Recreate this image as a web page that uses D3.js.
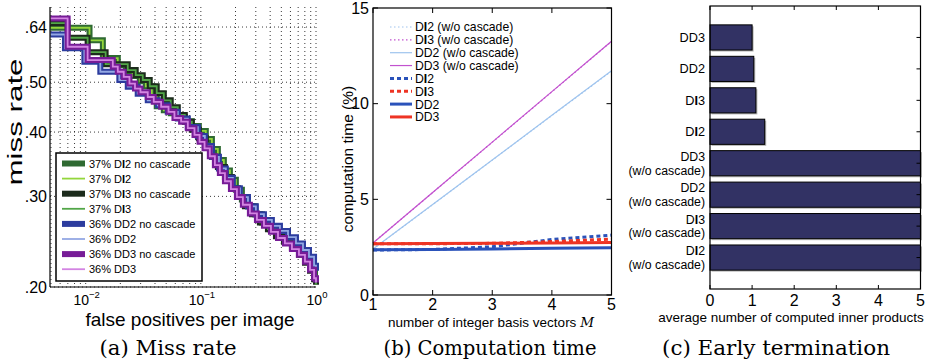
<!DOCTYPE html>
<html><head><meta charset="utf-8">
<script src="https://cdn.jsdelivr.net/npm/d3@7"></script>
<style>
body{margin:0;background:#fff}
svg{display:block}
text{font-family:"Liberation Sans",Arial,Helvetica,sans-serif;fill:#000}
text.serif, tspan.serif{font-family:"DejaVu Serif","Liberation Serif",serif}
</style>
</head><body>
<svg id="c" width="935" height="363"></svg>
<script>
// ---------- Panel (a): miss rate vs false positives per image ----------
const rocDI2 = [[0.00493,0.638],[0.0108,0.603],[0.0141,0.557],[0.0190,0.540],[0.0223,0.525],[0.0256,0.514],[0.0295,0.502],[0.0333,0.491],[0.0375,0.470],[0.0414,0.449],[0.0477,0.441],[0.0548,0.435],[0.0631,0.428],[0.0726,0.420],[0.0835,0.411],[0.0961,0.402],[0.1105,0.388],[0.1248,0.371],[0.1406,0.353],[0.1585,0.337],[0.1788,0.323],[0.2015,0.309],[0.2272,0.296],[0.2566,0.287],[0.2948,0.277],[0.3392,0.267],[0.3981,0.259],[0.4677,0.252],[0.5483,0.246],[0.6437,0.239],[0.7406,0.232],[0.835,0.225],[0.9231,0.216],[0.9802,0.207],[1.0,0.203]];
const rocDI3 = [[0.00493,0.651],[0.00697,0.610],[0.0104,0.572],[0.0149,0.542],[0.0232,0.528],[0.0272,0.516],[0.0313,0.505],[0.0360,0.491],[0.0414,0.476],[0.0477,0.461],[0.0548,0.447],[0.0631,0.432],[0.0726,0.419],[0.0835,0.404],[0.0961,0.389],[0.1105,0.374],[0.1248,0.358],[0.1406,0.342],[0.1619,0.327],[0.1861,0.311],[0.2098,0.299],[0.2413,0.287],[0.2777,0.277],[0.3258,0.267],[0.3825,0.259],[0.4489,0.251],[0.5268,0.245],[0.618,0.238],[0.711,0.231],[0.802,0.223],[0.887,0.215],[0.962,0.207],[1.0,0.202]];
const rocDD2 = [[0.00493,0.619],[0.00661,0.582],[0.00974,0.548],[0.0134,0.524],[0.0196,0.505],[0.0232,0.490],[0.0283,0.475],[0.0346,0.461],[0.0423,0.451],[0.0516,0.438],[0.0631,0.425],[0.0771,0.409],[0.0942,0.393],[0.1084,0.376],[0.1248,0.358],[0.1436,0.340],[0.1649,0.326],[0.1897,0.311],[0.2183,0.299],[0.2566,0.287],[0.3006,0.277],[0.3532,0.270],[0.414,0.263],[0.4864,0.257],[0.5715,0.250],[0.670,0.243],[0.771,0.236],[0.869,0.229],[0.962,0.220],[1.0,0.215]];
const rocDD3 = [[0.00493,0.665],[0.00697,0.586],[0.0104,0.552],[0.0172,0.536],[0.0190,0.524],[0.0214,0.512],[0.0240,0.497],[0.0268,0.486],[0.0299,0.478],[0.0346,0.468],[0.0390,0.458],[0.0452,0.448],[0.0524,0.438],[0.0590,0.426],[0.0674,0.419],[0.0771,0.407],[0.0881,0.395],[0.0975,0.383],[0.1077,0.372],[0.1197,0.359],[0.1324,0.345],[0.1463,0.333],[0.1619,0.321],[0.1825,0.310],[0.2057,0.299],[0.2317,0.289],[0.2667,0.278],[0.3069,0.270],[0.3532,0.263],[0.4064,0.256],[0.4677,0.249],[0.537,0.243],[0.618,0.237],[0.711,0.231],[0.802,0.224],[0.887,0.216],[0.962,0.208],[1.0,0.204]];
const rocLabels = ["37% DI2 no cascade","37% DI2","37% DI3 no cascade","37% DI3","36% DD2 no cascade","36% DD2","36% DD3 no cascade","36% DD3"];
const rocData = [rocDI2, rocDI2, rocDI3, rocDI3, rocDD2, rocDD2, rocDD3, rocDD3];
const rocColors = ["#2f6a32","#93d63c","#1c2b1c","#52a648","#2c3c9e","#93a8e4","#771c97","#d384e2"];
const rocThick = [true,false,true,false,true,false,true,false];
const xTicksA = [0.01, 0.1, 1];
const xTickExpA = ["\u22122","\u22121","0"];
const yTicksA = [0.20, 0.30, 0.40, 0.50, 0.64];
const yTickLabelsA = [".20",".30",".40",".50",".64"];

// ---------- Panel (b): computation time ----------
const basisM = [1,2,3,4,5];
const timeLabels = ["DI2 (w/o cascade)","DI3 (w/o cascade)","DD2 (w/o cascade)","DD3 (w/o cascade)","DI2","DI3","DD2","DD3"];
const timeDI2wo = [2.40, 4.72, 7.05, 9.38, 11.70];
const timeDI3wo = [2.72, 5.35, 7.98, 10.62, 13.25];
const timeDD2wo = [2.40, 4.73, 7.06, 9.39, 11.72];
const timeDD3wo = [2.72, 5.36, 7.99, 10.63, 13.26];
const timeDI2 = [2.35, 2.38, 2.52, 2.90, 3.13];
const timeDI3 = [2.68, 2.68, 2.70, 2.79, 2.92];
const timeDD2 = [2.36, 2.38, 2.41, 2.44, 2.47];
const timeDD3 = [2.68, 2.69, 2.70, 2.72, 2.74];
const timeData = [timeDI2wo, timeDI3wo, timeDD2wo, timeDD3wo, timeDI2, timeDI3, timeDD2, timeDD3];
const timeColors = ["#9fc4ee","#c252cf","#9fc4ee","#c252cf","#2a52ba","#ee3424","#2a52ba","#ee3424"];
const timeWidth = [1.2,1.2,1.2,1.2,3,3,3,3];
const timeDash = ["1.5,2.5","1.5,2.5",null,null,"4,3","4,3",null,null];
const yTicksB = [0,5,10,15];

// ---------- Panel (c): early termination ----------
const barLabels = ["DI2\n(w/o cascade)","DI3\n(w/o cascade)","DD2\n(w/o cascade)","DD3\n(w/o cascade)","DI2","DI3","DD2","DD3"];
const barValues = [5, 5, 5, 5, 1.30, 1.09, 1.04, 1.00];
const xTicksC = [0,1,2,3,4,5];

const svg = d3.select("#c");

function rich(sel, str){
  const parts = str.split("DI");
  parts.forEach((p,i)=>{
    if(i>0){ sel.append("tspan").text("D"); sel.append("tspan").attr("font-weight","bold").text("I"); }
    if(p.length) sel.append("tspan").text(p);
  });
}

// ===== Panel A =====
const xA = d3.scaleLog().domain([0.0049, 1]).range([50, 316]);
const yA = d3.scaleLog().domain([0.2, 0.7]).range([287, 7]);
const gA = svg.append("g");
const gridA = gA.append("g").attr("stroke","#222").attr("stroke-width",0.9).attr("stroke-dasharray","1,3");
gridA.selectAll("line.v").data(xA.ticks()).join("line")
  .attr("x1",d=>xA(d)).attr("x2",d=>xA(d)).attr("y1",yA(0.7)).attr("y2",yA(0.2));
gridA.selectAll("line.h").data(yTicksA).join("line")
  .attr("x1",xA.range()[0]).attr("x2",xA.range()[1]).attr("y1",d=>yA(d)).attr("y2",d=>yA(d));
svg.append("defs").append("clipPath").attr("id","clipA").append("rect")
  .attr("x",50).attr("y",5).attr("width",270).attr("height",284);
const lineA = d3.line().x(d=>xA(d[0])).y(d=>yA(d[1])).curve(d3.curveStepAfter);
const curves = gA.append("g").attr("clip-path","url(#clipA)");
rocData.forEach((s,i)=>{
  curves.append("path").attr("d",lineA(s)).attr("fill","none")
    .attr("stroke",rocColors[i]).attr("stroke-width",rocThick[i]?6:1.8)
    .attr("stroke-linejoin","miter");
});
gA.append("line").attr("x1",50).attr("x2",50).attr("y1",7).attr("y2",287).attr("stroke","#000").attr("stroke-width",1.2);
gA.append("line").attr("x1",50).attr("x2",316).attr("y1",287).attr("y2",287).attr("stroke","#000").attr("stroke-width",1.2);
yTicksA.forEach((v,i)=>{
  gA.append("text").attr("x",47).attr("y",yA(v)+5.6).attr("text-anchor","end").attr("font-size",16).text(yTickLabelsA[i]);
});
xTicksA.forEach((v,i)=>{
  const t = gA.append("text").attr("x",xA(v)+1).attr("y",304.5).attr("text-anchor","middle").attr("font-size",14);
  t.append("tspan").text("10");
  t.append("tspan").attr("dy",-6.5).attr("font-size",9.5).text(xTickExpA[i]);
});
gA.append("text").attr("x",190).attr("y",326).attr("text-anchor","middle").attr("font-size",19).text("false positives per image");
gA.append("text").attr("transform","translate(22,122) rotate(-90)").attr("text-anchor","middle")
  .attr("font-size",20).attr("textLength",127).attr("lengthAdjust","spacingAndGlyphs").text("miss rate");
// legend
const legA = gA.append("g");
legA.append("rect").attr("x",56).attr("y",153).attr("width",146).attr("height",128).attr("fill","#fff").attr("stroke","#000").attr("stroke-width",1.5);
rocLabels.forEach((lab,i)=>{
  const y = 163.5 + i*15.1;
  legA.append("line").attr("x1",62).attr("x2",85).attr("y1",y).attr("y2",y)
    .attr("stroke",rocColors[i]).attr("stroke-width",rocThick[i]?6:1.8);
  const t = legA.append("text").attr("x",89).attr("y",y+4).attr("font-size",11);
  rich(t, lab);
});
svg.append("text").attr("class","serif").attr("x",168).attr("y",355).attr("text-anchor","middle")
  .attr("font-size",20).attr("textLength",137).attr("lengthAdjust","spacingAndGlyphs").text("(a) Miss rate");

// ===== Panel B =====
const xB = d3.scaleLinear().domain([1,5]).range([373, 611.5]);
const yB = d3.scaleLinear().domain([0,15]).range([295, 8]);
const gB = svg.append("g");
const lineB = d3.line().x((d,i)=>xB(basisM[i])).y(d=>yB(d));
timeData.forEach((s,i)=>{
  const p = gB.append("path").attr("d",lineB(s)).attr("fill","none")
    .attr("stroke",timeColors[i]).attr("stroke-width",timeWidth[i]);
  if(timeDash[i]) p.attr("stroke-dasharray",timeDash[i]);
});
gB.append("rect").attr("x",xB(1)).attr("y",yB(15)).attr("width",xB(5)-xB(1)).attr("height",yB(0)-yB(15))
  .attr("fill","none").attr("stroke","#000").attr("stroke-width",1.2);
basisM.forEach(m=>{
  gB.append("line").attr("x1",xB(m)).attr("x2",xB(m)).attr("y1",yB(0)).attr("y2",yB(0)-5).attr("stroke","#000");
  gB.append("line").attr("x1",xB(m)).attr("x2",xB(m)).attr("y1",yB(15)).attr("y2",yB(15)+5).attr("stroke","#000");
  gB.append("text").attr("x",xB(m)).attr("y",310).attr("text-anchor","middle").attr("font-size",16).text(m);
});
yTicksB.forEach(v=>{
  gB.append("line").attr("x1",xB(1)).attr("x2",xB(1)+5).attr("y1",yB(v)).attr("y2",yB(v)).attr("stroke","#000");
  gB.append("line").attr("x1",xB(5)).attr("x2",xB(5)-5).attr("y1",yB(v)).attr("y2",yB(v)).attr("stroke","#000");
  gB.append("text").attr("x",369).attr("y",yB(v)+5.7).attr("text-anchor","end").attr("font-size",16).text(v);
});
const xlB = gB.append("text").attr("x",491).attr("y",327).attr("text-anchor","middle").attr("font-size",13.5);
xlB.append("tspan").text("number of integer basis vectors ");
xlB.append("tspan").attr("class","serif").attr("font-style","italic").text("M");
gB.append("text").attr("transform","translate(353,159) rotate(-90)").attr("text-anchor","middle")
  .attr("font-size",15.5).text("computation time (%)");
timeLabels.forEach((lab,i)=>{
  const y = 27 + i*12.85;
  const l = gB.append("line").attr("x1",390).attr("x2",412).attr("y1",y).attr("y2",y)
    .attr("stroke",timeColors[i]).attr("stroke-width",timeWidth[i]);
  if(timeDash[i]) l.attr("stroke-dasharray",timeDash[i]);
  const t = gB.append("text").attr("x",415).attr("y",y+4.4).attr("font-size",12.2);
  rich(t, lab);
});
svg.append("text").attr("class","serif").attr("x",490).attr("y",355).attr("text-anchor","middle")
  .attr("font-size",20).attr("textLength",213).attr("lengthAdjust","spacingAndGlyphs").text("(b) Computation time");

// ===== Panel C =====
const xC = d3.scaleLinear().domain([0,5]).range([710, 920.5]);
const yC = d3.scaleLinear().domain([0,9]).range([289, 6]);
const gC = svg.append("g");
const bh = yC(0) - yC(0.8);
barValues.forEach((v,i)=>{
  const c = yC(i+1);
  gC.append("rect").attr("x",xC(0)+1.5).attr("y",c-bh/2+1.5).attr("width",xC(v)-xC(0)).attr("height",bh).attr("fill","#b4b4b4");
  gC.append("rect").attr("x",xC(0)).attr("y",c-bh/2).attr("width",xC(v)-xC(0)).attr("height",bh)
    .attr("fill","#323264").attr("stroke","#000").attr("stroke-width",1);
  const lines = barLabels[i].split("\n");
  if(lines.length===1){
    rich(gC.append("text").attr("x",705).attr("y",c+4.5).attr("text-anchor","end").attr("font-size",12.7), lines[0]);
  } else {
    rich(gC.append("text").attr("x",705).attr("y",c-6.5+4.3).attr("text-anchor","end").attr("font-size",12.3), lines[0]);
    gC.append("text").attr("x",705).attr("y",c+7+4.3).attr("text-anchor","end").attr("font-size",12.3).text(lines[1]);
  }
  gC.append("line").attr("x1",xC(5)).attr("x2",xC(5)-4).attr("y1",c).attr("y2",c).attr("stroke","#000");
});
gC.append("rect").attr("x",xC(0)).attr("y",yC(9)).attr("width",xC(5)-xC(0)).attr("height",yC(0)-yC(9))
  .attr("fill","none").attr("stroke","#000").attr("stroke-width",1.2);
xTicksC.forEach(v=>{
  gC.append("line").attr("x1",xC(v)).attr("x2",xC(v)).attr("y1",yC(0)).attr("y2",yC(0)-4).attr("stroke","#000");
  gC.append("line").attr("x1",xC(v)).attr("x2",xC(v)).attr("y1",yC(9)).attr("y2",yC(9)+4).attr("stroke","#000");
  gC.append("text").attr("x",xC(v)).attr("y",306).attr("text-anchor","middle").attr("font-size",16).text(v);
});
gC.append("text").attr("x",791).attr("y",322).attr("text-anchor","middle").attr("font-size",13.5).text("average number of computed inner products");
svg.append("text").attr("class","serif").attr("x",776).attr("y",355).attr("text-anchor","middle")
  .attr("font-size",20).attr("textLength",228).attr("lengthAdjust","spacingAndGlyphs").text("(c) Early termination");
</script>
</body></html>
